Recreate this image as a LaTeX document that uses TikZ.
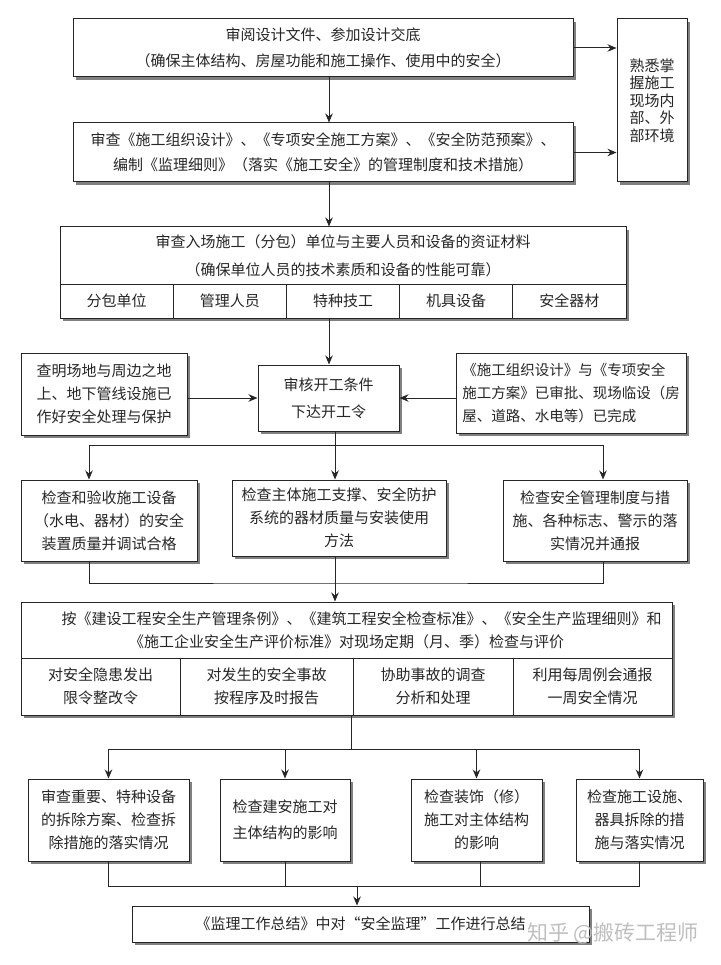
\documentclass[tikz,border=0pt]{standalone}
\usepackage{fontspec}
\newfontfamily\cjk{Noto Sans CJK SC}
\usetikzlibrary{arrows.meta,shadows}

\begin{document}
\begin{tikzpicture}[x=1pt,y=-1pt,
    kuang/.style={draw=black!85,line width=1pt,fill=white,inner sep=0pt,align=center,text=black!85,
      font=\cjk\fontsize{15}{23}\selectfont,
      drop shadow={shadow xshift=3pt,shadow yshift=-3pt,fill=black!50,opacity=1}},
    jt/.style={-{Stealth[length=9pt,width=7.5pt]},line width=1pt,draw=black!85},
    xian/.style={line width=1pt,draw=black!85}]
  \fill[white] (0,0) rectangle (720,965);
  \useasboundingbox (0,0) rectangle (720,965);
  \coordinate (zhu) at (329,0);%主线
  % 第一、二层
  \node[kuang,minimum width=500,minimum height=58] (shenyue) at (323,48) {审阅设计文件、参加设计交底\\[3pt]（确保主体结构、房屋功能和施工操作、使用中的安全）};
  \node[kuang,minimum width=500,minimum height=59] (shencha) at (323,152.5) {审查《施工组织设计》、《专项安全施工方案》、《安全防范预案》、\\[2pt]编制《监理细则》（落实《施工安全》的管理制度和技术措施）};
  \node[kuang,minimum width=70,minimum height=163,font=\cjk\fontsize{15}{17.5}\selectfont] (huanjing) at (652,100.5) {熟悉掌\\握施工\\现场内\\部、外\\部环境};
  % 资证材料
  \node[kuang,minimum width=566,minimum height=57] (ruchang) at (343,255.5) {审查入场施工（分包）单位与主要人员和设备的资证材料\\[5pt]（确保单位人员的技术素质和设备的性能可靠）};
  \node[kuang,minimum width=113.2,minimum height=34] (fenbao) at (116.6,301) {分包单位};
  \node[kuang,minimum width=113.2,minimum height=34] (guanli) at (229.8,301) {管理人员};
  \node[kuang,minimum width=113.2,minimum height=34] (tezhong) at (343,301) {特种技工};
  \node[kuang,minimum width=113.2,minimum height=34] (jiju) at (456.2,301) {机具设备};
  \node[kuang,minimum width=113.2,minimum height=34] (qicai) at (569.4,301) {安全器材};
  % 开工
  \node[kuang,minimum width=166,minimum height=82] (changdi) at (104,394) {查明场地与周边之地\\上、地下管线设施已\\作好安全处理与保护};
  \node[kuang,minimum width=141,minimum height=66] (kaigong) at (328.5,398) {审核开工条件\\[4pt]下达开工令};
  \node[kuang,minimum width=230,minimum height=80,align=left,font=\cjk\fontsize{14.5}{23}\selectfont] (fangan) at (571,393) {《施工组织设计》与《专项安全\\施工方案》已审批、现场临设（房\\屋、道路、水电等）已完成};
  % 检查
  \node[kuang,minimum width=176,minimum height=81] (shebei) at (109,520.5) {检查和验收施工设备\\（水电、器材）的安全\\装置质量并调试合格};
  \node[kuang,minimum width=214,minimum height=76] (fanghu) at (339,518) {检查主体施工支撑、安全防护\\系统的器材质量与安装使用\\方法};
  \node[kuang,minimum width=184,minimum height=81] (zhidu) at (595,520.5) {检查安全管理制度与措\\施、各种标志、警示的落\\实情况并通报};
  % 定期检查
  \node[kuang,minimum width=651,minimum height=56] (pingjia) at (346.5,630) {\hspace*{2em}按《建设工程安全生产管理条例》、《建筑工程安全检查标准》、《安全生产监理细则》和\\《施工企业安全生产评价标准》对现场定期（月、季）检查与评价};
  \node[kuang,minimum width=159,minimum height=57] (yinhuan) at (100.5,686.5) {对安全隐患发出\\限令整改令};
  \node[kuang,minimum width=173,minimum height=57] (shigu) at (266.5,686.5) {对发生的安全事故\\按程序及时报告};
  \node[kuang,minimum width=160,minimum height=57] (diaocha) at (433,686.5) {协助事故的调查\\分析和处理};
  \node[kuang,minimum width=159,minimum height=57] (lihui) at (592.5,686.5) {利用每周例会通报\\一周安全情况};
  % 拆除
  \node[kuang,minimum width=161,minimum height=82] (chaichu) at (108.5,820) {审查重要、特种设备\\的拆除方案、检查拆\\除措施的落实情况};
  \node[kuang,minimum width=130,minimum height=82] (jianan) at (285,820) {检查建安施工对\\[3pt]主体结构的影响};
  \node[kuang,minimum width=131,minimum height=82] (zhuangshi) at (476.5,820) {检查装饰（修）\\施工对主体结构\\的影响};
  \node[kuang,minimum width=127,minimum height=82] (sheshi) at (639.5,820) {检查施工设施、\\器具拆除的措\\施与落实情况};
  % 总结
  \node[kuang,minimum width=457,minimum height=36] (zongjie) at (360.5,924) {《监理工作总结》中对“安全监理”工作进行总结};
  \node[text=black!25,font=\cjk\fontsize{21}{21}\selectfont,inner sep=0pt] (shuiyin) at (613,933) {知乎\ @搬砖工程师};

  \draw[jt] (shenyue.south -| zhu) -- (shencha.north -| zhu);
  \draw[jt] (shencha.south -| zhu) -- (ruchang.north -| zhu);
  \draw[jt] (tezhong.south -| zhu) -- (kaigong.north -| zhu);
  \draw[jt] (shenyue.east) -- (shenyue.east -| huanjing.west);
  \draw[jt] (shencha.east) -- (shencha.east -| huanjing.west);
  \draw[jt] (kaigong.west -| changdi.east) -- (kaigong.west);
  \draw[jt] (kaigong.east -| fangan.west) -- (kaigong.east);

  \coordinate (fen1) at (335,445);
  \draw[xian] (kaigong.south -| fen1) -- (fen1);
  \draw[jt] (fen1) -| ([xshift=-20pt]shebei.north);
  \draw[jt] (fen1) -- (fanghu.north -| fen1);
  \draw[jt] (fen1) -| ([xshift=8pt]zhidu.north);

  \coordinate (he1) at (335,583);
  \draw[xian] ([xshift=-20pt]shebei.south) |- (he1) -| ([xshift=8pt]zhidu.south);
  \draw[xian] (fanghu.south -| he1) -- (he1);
  \draw[jt] (he1) -- (pingjia.north -| he1);

  \coordinate (fen2) at (351,749);
  \draw[xian] (shigu.south -| fen2) -- (fen2);
  \draw[jt] (fen2) -| (chaichu.north);
  \draw[jt] (fen2) -| (jianan.north);
  \draw[jt] (fen2) -| (zhuangshi.north);
  \draw[jt] (fen2) -| (sheshi.north);

  \coordinate (he2) at (357,886);
  \draw[xian] (chaichu.south) |- (he2) -| (sheshi.south);
  \draw[xian] (jianan.south) -- (jianan.south |- he2);
  \draw[xian] ([xshift=4pt]zhuangshi.south) -- ([xshift=4pt]zhuangshi.south |- he2);
  \draw[jt] (he2) -- (zongjie.north -| he2);
\end{tikzpicture}
\end{document}
